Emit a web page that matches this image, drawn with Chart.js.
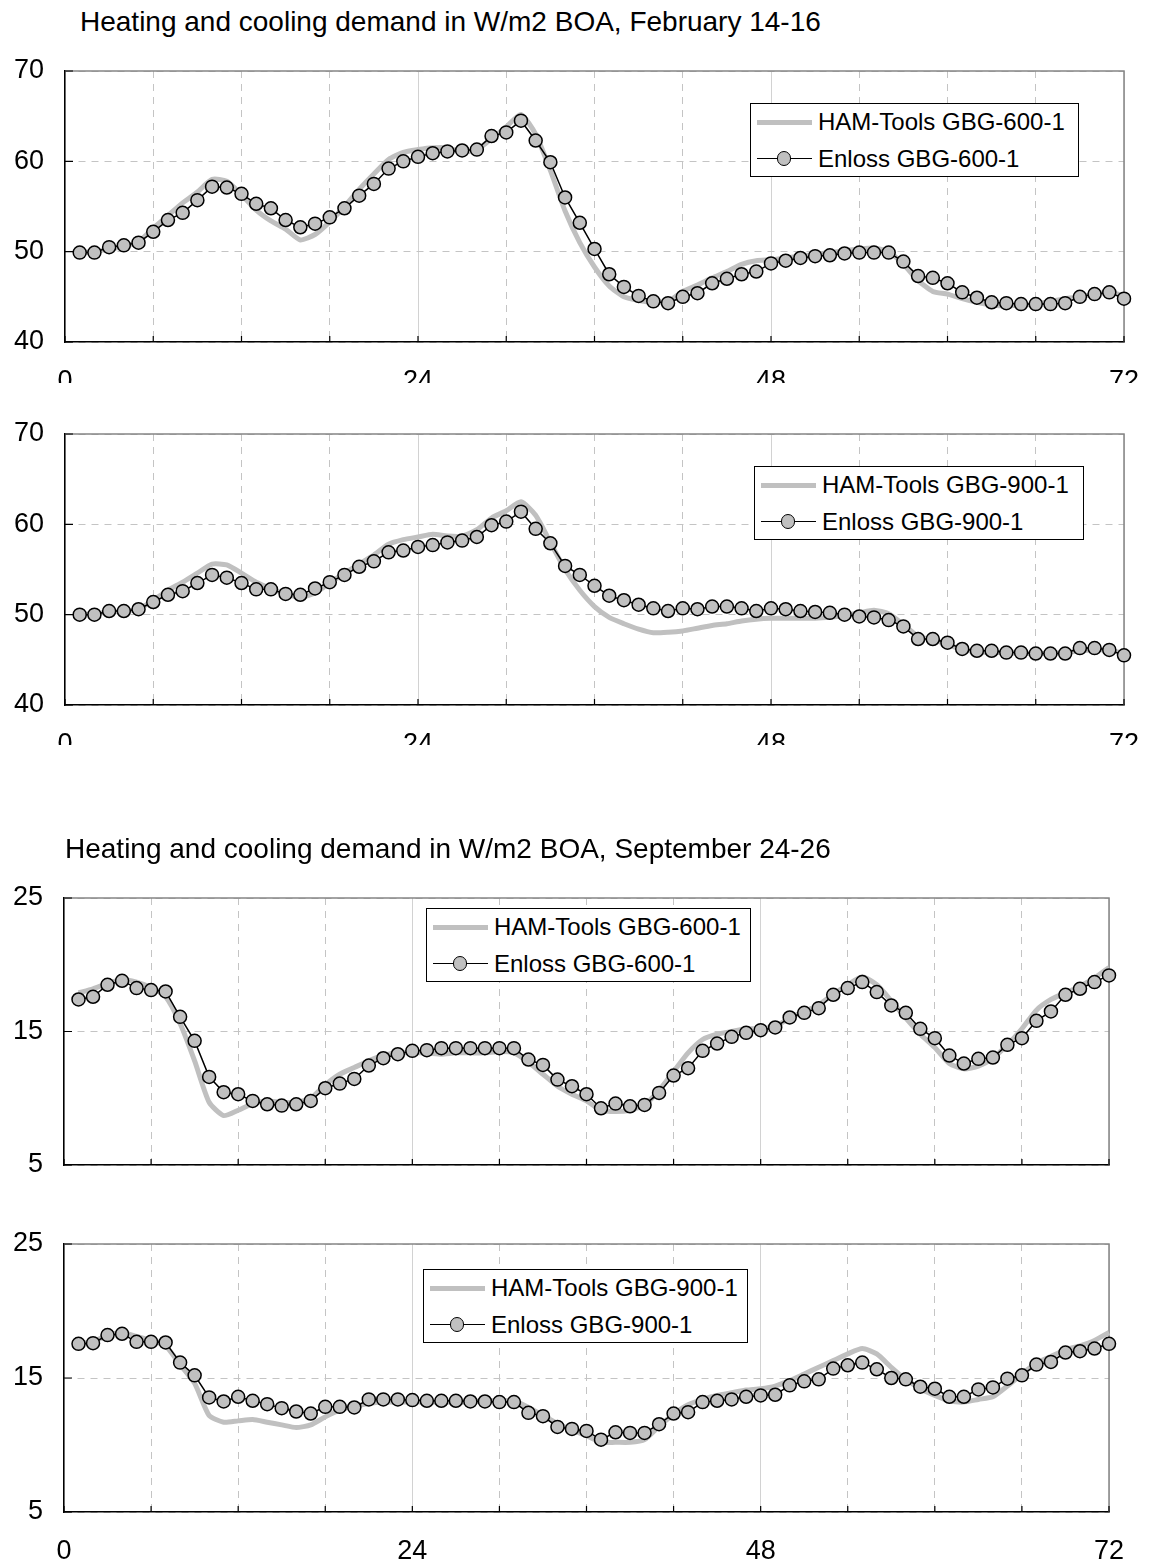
<!DOCTYPE html>
<html>
<head>
<meta charset="utf-8">
<title>Heating and cooling demand</title>
<script src="https://cdn.jsdelivr.net/npm/chart.js@4.4.0/dist/chart.umd.min.js"></script>
<style>
  body { margin: 0; background: #fff; }
  #page { position: relative; width: 1150px; height: 1566px; overflow: hidden;
          font-family: 'Liberation Sans', Arial, sans-serif; color: #000; }
  #page canvas { position: absolute; left: 0; }
  .title { position: absolute; font-size: 28px; line-height: 28px; white-space: nowrap; }
  .legend { position: absolute; box-sizing: border-box; border: 1px solid #000; background: #fff;
            font-size: 24px; line-height: 24px; }
  .legend .item { position: absolute; left: 0; height: 24px; white-space: nowrap; }
  .legend .sample { position: absolute; left: 6px; top: 12px; width: 55px; }
  .legend .dot { position: absolute; top: 0; left: 27px; border-radius: 50%; box-sizing: border-box; }
  .legend .text { position: absolute; left: 67px; top: 0; }
</style>
</head>
<body>
<div id="page">
  <div class="title" style="left:80px; top:8px;">Heating and cooling demand in W/m2 BOA, February 14-16</div>
  <canvas id="febA" width="1150" height="383" style="top:0px"></canvas>
  <canvas id="febB" width="1150" height="362" style="top:383px"></canvas>
  <canvas id="sepA" width="1150" height="430" style="top:745px"></canvas>
  <canvas id="sepB" width="1150" height="391" style="top:1175px"></canvas>
  <div class="title" style="left:65px; top:835px;">Heating and cooling demand in W/m2 BOA, September 24-26</div>
</div>
<script>
// hour of the simulation period (x values)
const hours = [1, 2, 3, 4, 5, 6, 7, 8, 9, 10, 11, 12, 13, 14, 15, 16, 17, 18, 19, 20, 21, 22, 23, 24,
  25, 26, 27, 28, 29, 30, 31, 32, 33, 34, 35, 36, 37, 38, 39, 40, 41, 42, 43, 44, 45, 46, 47, 48,
  49, 50, 51, 52, 53, 54, 55, 56, 57, 58, 59, 60, 61, 62, 63, 64, 65, 66, 67, 68, 69, 70, 71, 72];
const xTickLabels = [0, 24, 48, 72];

// February 14-16, W/m2
const hamFeb600 = [
  49.9, 50.0, 50.3, 50.6, 51.1, 52.6, 54.0, 55.4, 56.6, 58.0,
  57.8, 56.3, 54.6, 53.4, 52.5, 51.3, 51.9, 53.3, 55.0, 56.9,
  58.6, 60.2, 61.0, 61.3, 61.5, 61.5, 61.0, 61.3, 62.5, 63.8,
  65.2, 63.0, 59.0, 54.5, 51.0, 48.3, 46.2, 45.0, 44.6, 44.4,
  44.5, 45.6, 46.3, 47.1, 47.8, 48.6, 49.0, 49.1, 49.3, 49.5,
  49.7, 49.9, 50.1, 50.3, 50.4, 50.0, 48.6, 46.8, 45.6, 45.3,
  44.8, 44.4, 44.1, 44.0, 44.1, 44.2, 44.5, 44.8, 45.0, 45.3,
  45.5, 45.1];
const enlossFeb600 = [
  49.9, 49.9, 50.5, 50.7, 51.0, 52.2, 53.5, 54.3, 55.7, 57.2,
  57.1, 56.4, 55.3, 54.8, 53.5, 52.7, 53.1, 53.8, 54.8, 56.2,
  57.5, 59.2, 60.0, 60.5, 60.9, 61.1, 61.2, 61.3, 62.8, 63.2,
  64.5, 62.3, 59.9, 56.0, 53.2, 50.3, 47.5, 46.1, 45.1, 44.5,
  44.3, 45.0, 45.4, 46.5, 47.0, 47.5, 47.8, 48.7, 49.0, 49.3,
  49.5, 49.6, 49.8, 49.9, 49.9, 49.9, 48.9, 47.3, 47.1, 46.5,
  45.5, 44.9, 44.4, 44.3, 44.2, 44.2, 44.2, 44.3, 45.0, 45.3,
  45.5, 44.8];
const hamFeb900 = [
  50.0, 50.1, 50.3, 50.4, 50.6, 51.6, 52.7, 53.6, 54.6, 55.6,
  55.5, 54.6, 53.6, 52.9, 52.3, 51.9, 52.4, 53.5, 54.6, 55.6,
  56.6, 57.8, 58.3, 58.6, 58.9, 58.7, 58.7, 59.4, 60.7, 61.5,
  62.5, 61.0, 58.0, 55.0, 52.7, 50.9, 49.7, 49.0, 48.4, 48.0,
  48.05, 48.2, 48.5, 48.8, 49.0, 49.3, 49.5, 49.6, 49.6, 49.6,
  49.6, 49.7, 49.9, 50.2, 50.5, 50.1, 48.9, 47.6, 47.2, 46.7,
  46.1, 45.9, 45.8, 45.8, 45.7, 45.7, 45.7, 45.8, 46.0, 46.1,
  46.1, 45.7];
const enlossFeb900 = [
  50.0, 50.0, 50.4, 50.4, 50.6, 51.4, 52.2, 52.6, 53.5, 54.4,
  54.1, 53.5, 52.8, 52.8, 52.3, 52.2, 52.9, 53.6, 54.4, 55.3,
  55.9, 56.9, 57.1, 57.5, 57.7, 58.0, 58.2, 58.6, 59.9, 60.3,
  61.4, 59.5, 57.9, 55.4, 54.4, 53.2, 52.1, 51.6, 51.1, 50.7,
  50.4, 50.7, 50.6, 50.9, 50.9, 50.7, 50.4, 50.7, 50.6, 50.4,
  50.3, 50.2, 50.0, 49.8, 49.7, 49.4, 48.7, 47.3, 47.3, 46.9,
  46.2, 46.0, 46.0, 45.8, 45.8, 45.7, 45.7, 45.7, 46.3, 46.3,
  46.1, 45.5];

// September 24-26, W/m2
const hamSep600 = [
  17.9, 18.2, 18.6, 18.9, 18.7, 18.3, 17.6, 15.6, 12.8, 9.7,
  8.7, 9.1, 9.6, 9.8, 9.7, 9.7, 10.0, 11.0, 11.8, 12.3,
  12.8, 13.2, 13.4, 13.4, 13.4, 13.3, 13.4, 13.4, 13.4, 13.5,
  13.4, 12.7, 11.8, 10.9, 10.3, 9.8, 9.1, 9.0, 9.1, 9.5,
  10.6, 12.0, 13.4, 14.4, 14.8, 15.0, 15.2, 15.2, 15.4, 16.0,
  16.5, 17.0, 17.8, 18.5, 19.1, 18.5, 17.3, 16.0, 14.8, 13.8,
  12.6, 12.2, 12.4, 13.0, 14.0, 15.2, 16.6, 17.4, 17.9, 18.4,
  19.0, 19.8];
const enlossSep600 = [
  17.4, 17.6, 18.5, 18.8, 18.25, 18.1, 18.0, 16.1, 14.3, 11.6,
  10.45, 10.3, 9.8, 9.55, 9.45, 9.55, 9.8, 10.75, 11.1, 11.45,
  12.45, 13.0, 13.3, 13.55, 13.6, 13.75, 13.75, 13.75, 13.75, 13.75,
  13.75, 12.9, 12.5, 11.4, 10.9, 10.3, 9.25, 9.6, 9.4, 9.5,
  10.4, 11.7, 12.25, 13.55, 14.1, 14.6, 14.9, 15.1, 15.3, 16.05,
  16.4, 16.75, 17.75, 18.25, 18.7, 17.95, 16.95, 16.4, 15.2, 14.5,
  13.2, 12.6, 12.95, 13.05, 14.0, 14.5, 15.8, 16.5, 17.75, 18.2,
  18.7, 19.2];
const hamSep900 = [
  17.6, 17.7, 18.2, 18.4, 18.1, 17.8, 17.4, 16.0, 14.6, 12.2,
  11.7, 11.8, 11.9, 11.7, 11.5, 11.3, 11.5, 12.1, 12.6, 12.9,
  13.1, 13.2, 13.2, 13.2, 13.2, 13.2, 13.2, 13.2, 13.3, 13.3,
  13.3, 12.8, 12.2, 11.6, 11.1, 10.7, 10.2, 10.2, 10.2, 10.4,
  11.4, 12.3, 13.0, 13.4, 13.7, 13.9, 14.1, 14.2, 14.4, 14.8,
  15.3, 15.8, 16.3, 16.8, 17.2, 16.8, 15.8, 14.9, 14.2, 13.7,
  13.3, 13.2, 13.4, 13.6, 14.4, 15.3, 16.1, 16.6, 17.1, 17.4,
  17.8, 18.4];
const enlossSep900 = [
  17.55, 17.6, 18.2, 18.3, 17.7, 17.7, 17.65, 16.15, 15.2, 13.55,
  13.25, 13.6, 13.3, 13.05, 12.75, 12.5, 12.35, 12.85, 12.85, 12.8,
  13.4, 13.4, 13.4, 13.35, 13.3, 13.3, 13.3, 13.25, 13.25, 13.2,
  13.2, 12.4, 12.15, 11.35, 11.2, 11.05, 10.4, 10.95, 10.9, 10.9,
  11.55, 12.35, 12.45, 13.2, 13.3, 13.4, 13.6, 13.7, 13.75, 14.45,
  14.75, 14.9, 15.7, 15.95, 16.15, 15.65, 15.0, 14.9, 14.35, 14.2,
  13.6, 13.6, 14.15, 14.3, 14.95, 15.2, 16.0, 16.2, 16.9, 17.0,
  17.2, 17.55];

Chart.defaults.font.family = "'Liberation Sans', Arial, sans-serif";
Chart.defaults.color = '#000';

// gray frame on top/right plus short inward tick marks on the axes
const framePlugin = {
  id: 'frame',
  beforeDatasetsDraw(chart) {
    const {ctx, chartArea: a, scales: {x, y}} = chart;
    ctx.save();
    ctx.strokeStyle = '#858585';
    ctx.lineWidth = 1.5;
    ctx.beginPath();
    ctx.moveTo(a.left, a.top);
    ctx.lineTo(a.right, a.top);
    ctx.lineTo(a.right, a.bottom);
    ctx.stroke();
    ctx.strokeStyle = '#000';
    ctx.lineWidth = 1.2;
    ctx.beginPath();
    x.ticks.forEach(t => {
      const px = x.getPixelForValue(t.value);
      ctx.moveTo(px, a.bottom);
      ctx.lineTo(px, a.bottom - 6);
    });
    y.ticks.forEach(t => {
      const py = y.getPixelForValue(t.value);
      ctx.moveTo(a.left, py);
      ctx.lineTo(a.left + 8, py);
    });
    ctx.stroke();
    ctx.restore();
  }
};

function toPoints(values) {
  return values.map((v, i) => ({x: hours[i], y: v}));
}

function buildLegend(chart, box) {
  const el = document.createElement('div');
  el.className = 'legend';
  Object.assign(el.style, {left: box.x + 'px', top: box.y + 'px', width: box.w + 'px', height: box.h + 'px'});
  chart.data.datasets.forEach((ds, i) => {
    const item = document.createElement('div');
    item.className = 'item';
    item.style.top = (6 + i * 37) + 'px';
    const sample = document.createElement('div');
    sample.className = 'sample';
    sample.style.borderTop = ds.borderWidth + 'px solid ' + ds.borderColor;
    sample.style.marginTop = (-ds.borderWidth / 2) + 'px';
    if (ds.pointRadius > 0) {
      const d = ds.pointRadius * 2 + ds.pointBorderWidth;
      const dot = document.createElement('div');
      dot.className = 'dot';
      Object.assign(dot.style, {
        width: d + 'px', height: d + 'px',
        marginTop: (-d / 2 - ds.borderWidth / 2) + 'px', marginLeft: (-d / 2) + 'px',
        background: ds.pointBackgroundColor,
        border: ds.pointBorderWidth + 'px solid ' + ds.pointBorderColor
      });
      sample.appendChild(dot);
    }
    const text = document.createElement('div');
    text.className = 'text';
    text.textContent = ds.label;
    item.appendChild(sample);
    item.appendChild(text);
    el.appendChild(item);
  });
  document.getElementById('page').appendChild(el);
}

function makeChart(id, opt) {
  const isMajor = c => c.type === 'tick' && c.tick.value % 24 === 0;
  const chart = new Chart(document.getElementById(id), {
    type: 'line',
    data: {
      datasets: [{
        label: 'HAM-Tools ' + opt.wall,
        data: toPoints(opt.ham),
        borderColor: '#c0c0c0',
        borderWidth: 5,
        pointRadius: 0,
        tension: 0.2,
        order: 1,
        clip: false
      }, {
        label: 'Enloss ' + opt.wall,
        data: toPoints(opt.enloss),
        borderColor: '#000',
        borderWidth: 1.5,
        pointRadius: 6.5,
        pointBackgroundColor: '#c0c0c0',
        pointBorderColor: '#000',
        pointBorderWidth: 1.5,
        tension: 0,
        order: 0,
        clip: false
      }]
    },
    options: {
      responsive: false,
      animation: false,
      layout: { padding: { top: opt.padTop, right: opt.padRight, left: 0, bottom: 0 } },
      scales: {
        x: {
          type: 'linear',
          min: 0,
          max: 72,
          afterFit: s => {
            s.height = opt.xHeight;
            s.paddingLeft = 0;
            s.paddingRight = 0;
          },
          ticks: {
            display: opt.showX,
            stepSize: 6,
            autoSkip: false,
            maxRotation: 0,
            padding: 23,
            font: { size: 27 },
            callback: v => xTickLabels.includes(v) ? String(v) : ''
          },
          grid: {
            drawTicks: false,
            lineWidth: 1,
            color: c => isMajor(c) ? '#d2d2d2' : '#c4c4c4'
          },
          border: {
            color: '#000',
            width: 1.5,
            dash: c => (c.type === 'tick' && !isMajor(c)) ? [7, 6] : []
          }
        },
        y: {
          min: opt.yMin,
          max: opt.yMax,
          afterFit: s => {
            s.width = opt.yWidth;
            s.paddingTop = 0;
            s.paddingBottom = 0;
          },
          ticks: { stepSize: 10, padding: 21, font: { size: 27 } },
          grid: { drawTicks: false, lineWidth: 1, color: '#c4c4c4' },
          border: {
            color: '#000',
            width: 1.5,
            dash: c => c.type === 'tick' ? [7, 6] : []
          }
        }
      },
      plugins: {
        legend: { display: false },
        tooltip: { enabled: false }
      }
    },
    plugins: [framePlugin]
  });
  buildLegend(chart, opt.legendBox);
  return chart;
}

makeChart('febA', {
  wall: 'GBG-600-1', ham: hamFeb600, enloss: enlossFeb600,
  yMin: 40, yMax: 70, padTop: 71, padRight: 26, yWidth: 65, xHeight: 41, showX: true,
  legendBox: {x: 750, y: 103, w: 329, h: 74}
});
makeChart('febB', {
  wall: 'GBG-900-1', ham: hamFeb900, enloss: enlossFeb900,
  yMin: 40, yMax: 70, padTop: 51, padRight: 26, yWidth: 65, xHeight: 40, showX: true,
  legendBox: {x: 754, y: 466, w: 330, h: 74}
});
makeChart('sepA', {
  wall: 'GBG-600-1', ham: hamSep600, enloss: enlossSep600,
  yMin: 5, yMax: 25, padTop: 153, padRight: 41, yWidth: 64, xHeight: 10, showX: false,
  legendBox: {x: 426, y: 908, w: 325, h: 74}
});
makeChart('sepB', {
  wall: 'GBG-900-1', ham: hamSep900, enloss: enlossSep900,
  yMin: 5, yMax: 25, padTop: 69, padRight: 41, yWidth: 64, xHeight: 54, showX: true,
  legendBox: {x: 423, y: 1269, w: 325, h: 74}
});
</script>
</body>
</html>
